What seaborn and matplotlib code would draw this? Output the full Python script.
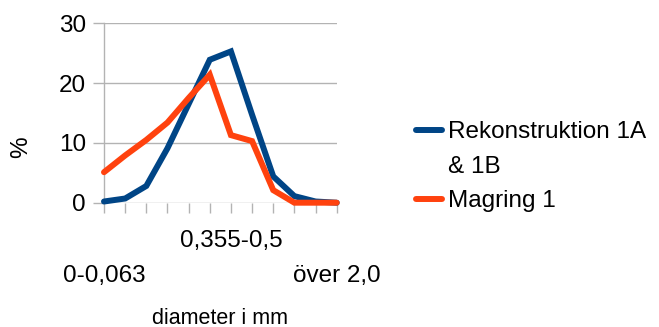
import matplotlib
matplotlib.use("Agg")
import matplotlib.pyplot as plt
import seaborn as sns
import pandas as pd
from matplotlib.lines import Line2D

categories = ["0-0,063", "0,063-0,09", "0,09-0,125", "0,125-0,18", "0,18-0,25",
              "0,25-0,355", "0,355-0,5", "0,5-0,71", "0,71-1,0", "1,0-1,4",
              "1,4-2,0", "över 2,0"]
rekonstruktion = [0.2, 0.7, 2.8, 9.1, 16.5, 23.9, 25.3, 14.7, 4.4, 1.1, 0.2, 0.0]
magring = [5.1, 7.9, 10.5, 13.4, 17.5, 21.4, 11.3, 10.3, 2.1, 0.0, 0.0, 0.0]
series_names = ["Rekonstruktion 1A & 1B", "Magring 1"]
legend_labels = ["Rekonstruktion 1A", "& 1B", "Magring 1"]
shown_top = [6]
shown_bottom = [0, 11]
yticks = [0, 10, 20, 30]
colors = ["#004586", "#ff420e"]

sns.set_theme(style="white")
plt.rcParams["font.family"] = ["Liberation Sans", "DejaVu Sans"]
plt.rcParams["text.color"] = "black"
plt.rcParams["axes.labelcolor"] = "black"

df = pd.DataFrame({
    "x": list(range(len(categories))) * 2,
    "value": rekonstruktion + magring,
    "series": [series_names[0]] * len(categories) + [series_names[1]] * len(categories),
})

fig = plt.figure(figsize=(6.59, 3.27), dpi=100)
ax = fig.add_axes([104 / 659, 1 - 202.7 / 327, (336.7 - 104) / 659, (202.7 - 23.3) / 327])

sns.lineplot(data=df, x="x", y="value", hue="series", palette=colors,
             linewidth=4.3, ax=ax, legend=False, sort=False)
for ln in ax.lines:
    ln.set_clip_on(False)
    ln.set_solid_joinstyle("miter")
    ln.set_zorder(3)

ax.set_xlim(0, len(categories) - 1)
ax.set_ylim(0, 30)
ax.set_yticks(yticks)
ax.set_yticklabels([str(v) for v in yticks])
ax.grid(axis="y", color="#b3b3b3", linewidth=1)
ax.set_axisbelow(True)
for s in ["top", "right", "bottom"]:
    ax.spines[s].set_visible(False)
ax.spines["left"].set_color("#b3b3b3")
ax.spines["left"].set_linewidth(1)

ax.xaxis.remove_overlapping_locs = False
ax.set_xticks(range(len(categories)))
ax.set_xticklabels([c if i in shown_top else "" for i, c in enumerate(categories)])
ax.set_xticks(shown_bottom, minor=True)
ax.set_xticklabels([categories[i] for i in shown_bottom], minor=True)
ax.tick_params(axis="x", which="major", direction="out", length=7.5, width=1,
               color="#b3b3b3", labelsize=17.5, labelcolor="black", pad=12, bottom=True)
ax.tick_params(axis="x", which="minor", length=0, labelsize=17.5,
               labelcolor="black", pad=45, bottom=True)
ax.tick_params(axis="y", direction="out", length=8, width=1, color="#b3b3b3",
               labelsize=17.5, labelcolor="black", pad=5, left=True)

ax.set_xlabel("diameter i mm", fontsize=15.5)
ax.xaxis.set_label_coords(0.5, (1 - 318 / 327 - (1 - 202.7 / 327)) / ((202.7 - 23.3) / 327))
ax.xaxis.label.set_va("center")
ax.set_ylabel("%", fontsize=17.5)
ax.yaxis.set_label_coords((21 - 104) / (336.7 - 104), (202.7 - 147) / (202.7 - 23.3))
ax.yaxis.label.set_va("center")

handles = [Line2D([], [], color=colors[0], linewidth=4.3),
           Line2D([], [], color="none", linewidth=0),
           Line2D([], [], color=colors[1], linewidth=4.3)]
fig.legend(handles, legend_labels, loc="upper left", bbox_to_anchor=(416 / 659, 1 - 121 / 327),
           frameon=False, fontsize=17.5, handlelength=1.05, handletextpad=0.25,
           labelspacing=0.52, borderaxespad=0, borderpad=0)

fig.savefig("out.png", dpi=100)
